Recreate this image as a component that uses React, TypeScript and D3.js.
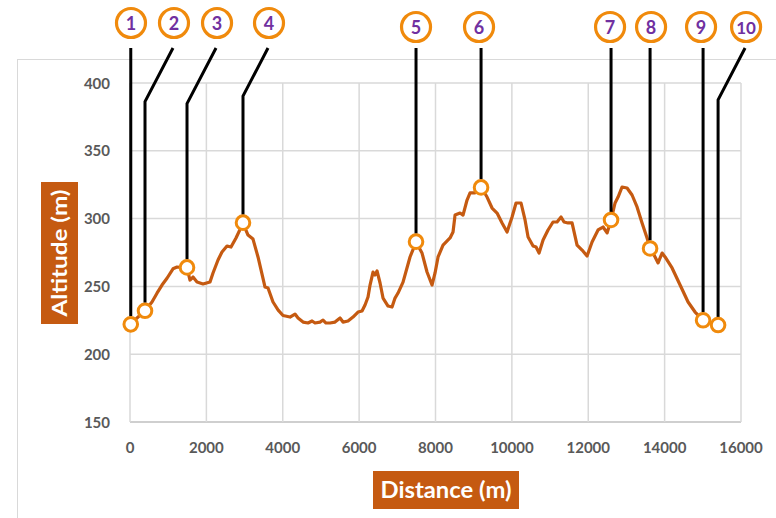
import * as d3 from "d3";
import { useEffect, useRef } from "react";

// elevation profile
const distances = [
  0, 393, 576, 707, 838, 969, 1126, 1231, 1493, 1571, 1650, 1755, 1912, 2095,
  2174, 2305, 2409, 2540, 2645, 2776, 2959, 3090, 3221, 3352, 3536, 3614, 3745,
  3880, 4007, 4190, 4321, 4400, 4531, 4662, 4767, 4845, 4976, 5055, 5133, 5238,
  5369, 5500, 5578, 5709, 5840, 5971, 6076, 6155, 6233, 6286, 6364, 6417, 6469,
  6548, 6626, 6757, 6862, 6940, 7019, 7150, 7333, 7490, 7647, 7778, 7909, 7988,
  8067, 8197, 8381, 8459, 8512, 8643, 8721, 8826, 8905, 9036, 9193, 9350, 9481,
  9612, 9743, 9874, 10005, 10109, 10240, 10345, 10424, 10555, 10633, 10712,
  10817, 10947, 11078, 11183, 11288, 11366, 11471, 11576, 11707, 11838, 11969,
  12100, 12257, 12388, 12493, 12597, 12702, 12781, 12885, 13016, 13147, 13278,
  13409, 13540, 13619, 13750, 13829, 13934, 14012, 14195, 14405, 14614, 14797,
  15007, 15400,
];
const altitudes = [
  222, 232, 238.5, 245, 251, 256, 263, 264.3, 263.6, 254.7, 256.9, 253.2, 251.8,
  253.2, 259.9, 269.5, 275.4, 279.8, 279, 285.7, 296.7, 287.9, 284.9, 271.7,
  249.5, 248.8, 238.5, 232.5, 228.5, 227.4, 229.6, 226.7, 223.7, 223, 224.5,
  223, 223.7, 225.2, 223, 223, 223.7, 226.7, 223.7, 224.5, 227.4, 231.1, 231.9,
  236.3, 242.2, 251, 260.6, 258.4, 261.4, 252.5, 241.4, 235.5, 234.8, 241.4,
  245.1, 253.2, 271.7, 282.7, 274.6, 260.6, 251, 259.9, 271.7, 280.5, 285.7,
  290.1, 302.6, 304.1, 302.6, 313.7, 318.9, 318.9, 323.3, 315.9, 307.8, 304.1,
  296.8, 290.1, 301.2, 311.5, 311.5, 299, 286.4, 279.8, 279, 274.6, 284.2,
  291.6, 297.5, 297.5, 301.2, 297.5, 296.8, 296.8, 280.5, 276.8, 272.4, 282.7,
  291.6, 293.8, 289.4, 299, 311.5, 315.9, 323.3, 322.6, 317.4, 308.6, 296.8,
  285.7, 278.3, 271.7, 267.3, 274.6, 271.7, 263.6, 251, 238.5, 231.1, 225.2,
  221.5,
];

// numbered waypoints
const waypointNames = ["1", "2", "3", "4", "5", "6", "7", "8", "9", "10"];
const waypointDist = [20, 393, 1493, 2959, 7490, 9193, 12597, 13619, 15007, 15400];
const waypointAlt = [222, 232, 264, 297, 283, 323, 299, 278, 225, 221.5];
const labelDist = [26, 1152, 2279, 3640, 7490, 9140, 12571, 13645, 14954, 16133];

const xTicks = [0, 2000, 4000, 6000, 8000, 10000, 12000, 14000, 16000];
const yTicks = [150, 200, 250, 300, 350, 400];

const App = () => {
  const width = 776;
  const height = 518;
  const svgRef = useRef(null);

  useEffect(() => {
    if (!svgRef.current) return;
    const svg = d3.select(svgRef.current);
    svg.selectAll("*").remove();

    const x = d3.scaleLinear([0, 16000], [130, 741]);
    const y = d3.scaleLinear([150, 400], [422, 83]);
    const font = "Lato, 'Open Sans', sans-serif";
    const grid = "#D9D9D9";
    const orange = "#F08A0C";

    // chart frame
    svg
      .append("rect")
      .attr("x", 17.5)
      .attr("y", 59.5)
      .attr("width", 800)
      .attr("height", 500)
      .attr("fill", "white")
      .attr("stroke", grid);

    const g = svg.append("g");

    g.selectAll(".hgrid")
      .data(yTicks)
      .join("line")
      .attr("x1", x(0))
      .attr("x2", x(16000))
      .attr("y1", (d) => y(d))
      .attr("y2", (d) => y(d))
      .attr("stroke", (d) => (d === 150 ? "#BFBFBF" : grid))
      .attr("stroke-width", 1.5);

    g.selectAll(".vgrid")
      .data(xTicks)
      .join("line")
      .attr("x1", (d) => x(d))
      .attr("x2", (d) => x(d))
      .attr("y1", y(150))
      .attr("y2", y(400))
      .attr("stroke", grid)
      .attr("stroke-width", 1.5);

    g.selectAll(".ylab")
      .data(yTicks)
      .join("text")
      .attr("x", 110)
      .attr("y", (d) => y(d) + 5.5)
      .attr("text-anchor", "end")
      .attr("font-family", font)
      .attr("font-weight", "bold")
      .attr("font-size", 15)
      .attr("fill", "#595959")
      .text((d) => d);

    g.selectAll(".xlab")
      .data(xTicks)
      .join("text")
      .attr("x", (d) => x(d))
      .attr("y", 453)
      .attr("text-anchor", "middle")
      .attr("font-family", font)
      .attr("font-weight", "bold")
      .attr("font-size", 15)
      .attr("fill", "#595959")
      .text((d) => d);

    // axis titles
    svg
      .append("rect")
      .attr("x", 41)
      .attr("y", 182)
      .attr("width", 37)
      .attr("height", 142)
      .attr("fill", "#C55A11");
    svg
      .append("text")
      .attr("transform", "translate(59.5,253) rotate(-90)")
      .attr("y", 7.5)
      .attr("text-anchor", "middle")
      .attr("font-family", font)
      .attr("font-weight", "bold")
      .attr("font-size", 21)
      .attr("fill", "white")
      .attr("textLength", 127)
      .attr("lengthAdjust", "spacingAndGlyphs")
      .text("Altitude (m)");

    svg
      .append("rect")
      .attr("x", 373)
      .attr("y", 471)
      .attr("width", 146)
      .attr("height", 38)
      .attr("fill", "#C55A11");
    svg
      .append("text")
      .attr("x", 446)
      .attr("y", 497.5)
      .attr("text-anchor", "middle")
      .attr("font-family", font)
      .attr("font-weight", "bold")
      .attr("font-size", 22)
      .attr("fill", "white")
      .attr("textLength", 131)
      .attr("lengthAdjust", "spacingAndGlyphs")
      .text("Distance (m)");

    // profile line
    const line = d3
      .line()
      .x((d) => x(d[0]))
      .y((d) => y(d[1]));
    svg
      .append("path")
      .datum(distances.map((d, i) => [d, altitudes[i]]))
      .attr("d", line)
      .attr("fill", "none")
      .attr("stroke", "#C55A11")
      .attr("stroke-width", 3.2)
      .attr("stroke-linejoin", "round");

    const waypoints = waypointNames.map((name, i) => ({
      name,
      mx: x(waypointDist[i]),
      my: y(waypointAlt[i]),
      lx: x(labelDist[i]),
      ly: i < 4 ? 23 : 27,
    }));

    // leader lines
    svg
      .append("g")
      .selectAll("path")
      .data(waypoints)
      .join("path")
      .attr("d", (w) => {
        const top = 48;
        const dx = Math.abs(w.lx - w.mx);
        if (dx < 3) return `M${w.mx},${top}V${w.my - 8}`;
        return `M${w.lx - 1},${top}L${w.mx},${top + 1.85 * dx}V${w.my - 8}`;
      })
      .attr("fill", "none")
      .attr("stroke", "black")
      .attr("stroke-width", 3);

    // markers
    svg
      .append("g")
      .selectAll("circle")
      .data(waypoints)
      .join("circle")
      .attr("cx", (w) => w.mx)
      .attr("cy", (w) => w.my)
      .attr("r", 6.8)
      .attr("fill", "white")
      .attr("stroke", orange)
      .attr("stroke-width", 3);

    // numbered labels
    const labels = svg.append("g").selectAll("g").data(waypoints).join("g");
    labels
      .append("circle")
      .attr("cx", (w) => w.lx)
      .attr("cy", (w) => w.ly)
      .attr("r", 14.5)
      .attr("fill", "white")
      .attr("stroke", orange)
      .attr("stroke-width", 3.2);
    labels
      .append("text")
      .attr("x", (w) => w.lx)
      .attr("y", (w) => w.ly + 6.5)
      .attr("text-anchor", "middle")
      .attr("font-family", font)
      .attr("font-weight", "bold")
      .attr("font-size", (w) => (w.name.length > 1 ? 17 : 18))
      .attr("fill", "#7030A0")
      .text((w) => w.name);
  }, []);

  return (
    <svg
      width={width}
      height={height}
      ref={svgRef}
      style={{ position: "absolute", left: 0, top: 0, background: "white" }}
    ></svg>
  );
};

export default App;
